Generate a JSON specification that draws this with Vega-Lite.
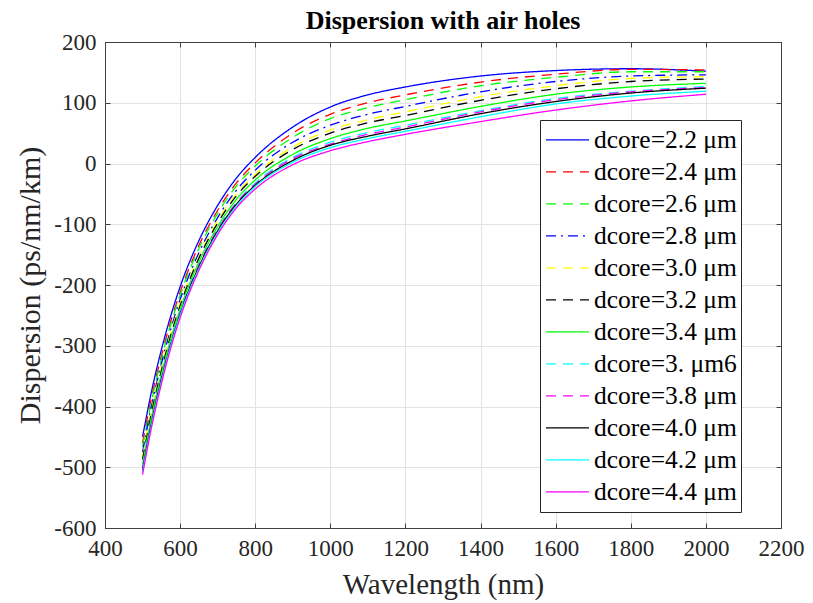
{
  "$schema": "https://vega.github.io/schema/vega-lite/v6.json",
  "width": 676,
  "height": 486,
  "autosize": {"type": "none"},
  "padding": {"left": 105, "top": 42, "right": 32, "bottom": 75},
  "background": "white",
  "title": {"text": "Dispersion with air holes", "font": "Liberation Serif", "fontSize": 26, "fontWeight": "bold", "color": "black", "anchor": "middle", "offset": -3},
  "config": {
    "view": {"stroke": "#404040", "strokeWidth": 1},
    "axis": {"labelFont": "Liberation Serif", "labelFontSize": 23, "labelColor": "#262626", "titleFont": "Liberation Serif", "titleFontSize": 29, "titleFontWeight": "normal", "titleColor": "#262626", "domainColor": "#404040", "tickColor": "#404040", "tickSize": -5, "labelPadding": 14, "gridColor": "#e3e3e3", "gridWidth": 1, "labelFlush": false, "labelOverlap": false, "labelExpr": "'' + datum.value"},
    "legend": {"labelFont": "Liberation Serif", "labelFontSize": 25.5, "labelColor": "black", "symbolType": "stroke", "symbolSize": 1849, "symbolStrokeWidth": 1.3, "padding": 4, "symbolOffset": 1, "clipHeight": 31.75, "strokeColor": "#262626", "fillColor": "white", "rowPadding": 0, "labelOffset": 4, "labelLimit": 400}
  },
  "data": {"values": [
    {"s":"dcore=2.2 μm","w":500,"D":-450},{"s":"dcore=2.2 μm","w":525,"D":-372},{"s":"dcore=2.2 μm","w":550,"D":-307},{"s":"dcore=2.2 μm","w":575,"D":-251},{"s":"dcore=2.2 μm","w":600,"D":-203},{"s":"dcore=2.2 μm","w":650,"D":-127},{"s":"dcore=2.2 μm","w":700,"D":-69},{"s":"dcore=2.2 μm","w":750,"D":-24},{"s":"dcore=2.2 μm","w":800,"D":10},{"s":"dcore=2.2 μm","w":900,"D":60},{"s":"dcore=2.2 μm","w":1000,"D":93},{"s":"dcore=2.2 μm","w":1100,"D":113},{"s":"dcore=2.2 μm","w":1200,"D":126},{"s":"dcore=2.2 μm","w":1400,"D":144},{"s":"dcore=2.2 μm","w":1600,"D":153},{"s":"dcore=2.2 μm","w":1800,"D":156},{"s":"dcore=2.2 μm","w":2000,"D":152},
    {"s":"dcore=2.4 μm","w":500,"D":-460},{"s":"dcore=2.4 μm","w":525,"D":-382},{"s":"dcore=2.4 μm","w":550,"D":-317},{"s":"dcore=2.4 μm","w":575,"D":-260},{"s":"dcore=2.4 μm","w":600,"D":-212},{"s":"dcore=2.4 μm","w":650,"D":-135},{"s":"dcore=2.4 μm","w":700,"D":-77},{"s":"dcore=2.4 μm","w":750,"D":-32},{"s":"dcore=2.4 μm","w":800,"D":1},{"s":"dcore=2.4 μm","w":900,"D":50},{"s":"dcore=2.4 μm","w":1000,"D":81},{"s":"dcore=2.4 μm","w":1100,"D":100},{"s":"dcore=2.4 μm","w":1200,"D":113},{"s":"dcore=2.4 μm","w":1400,"D":134},{"s":"dcore=2.4 μm","w":1600,"D":147},{"s":"dcore=2.4 μm","w":1800,"D":155},{"s":"dcore=2.4 μm","w":2000,"D":154},
    {"s":"dcore=2.6 μm","w":500,"D":-467},{"s":"dcore=2.6 μm","w":525,"D":-388},{"s":"dcore=2.6 μm","w":550,"D":-322},{"s":"dcore=2.6 μm","w":575,"D":-265},{"s":"dcore=2.6 μm","w":600,"D":-217},{"s":"dcore=2.6 μm","w":650,"D":-140},{"s":"dcore=2.6 μm","w":700,"D":-82},{"s":"dcore=2.6 μm","w":750,"D":-37},{"s":"dcore=2.6 μm","w":800,"D":-4},{"s":"dcore=2.6 μm","w":900,"D":43},{"s":"dcore=2.6 μm","w":1000,"D":74},{"s":"dcore=2.6 μm","w":1100,"D":92},{"s":"dcore=2.6 μm","w":1200,"D":105},{"s":"dcore=2.6 μm","w":1400,"D":128},{"s":"dcore=2.6 μm","w":1600,"D":142},{"s":"dcore=2.6 μm","w":1800,"D":151},{"s":"dcore=2.6 μm","w":2000,"D":151},
    {"s":"dcore=2.8 μm","w":500,"D":-475},{"s":"dcore=2.8 μm","w":525,"D":-396},{"s":"dcore=2.8 μm","w":550,"D":-330},{"s":"dcore=2.8 μm","w":575,"D":-273},{"s":"dcore=2.8 μm","w":600,"D":-224},{"s":"dcore=2.8 μm","w":650,"D":-147},{"s":"dcore=2.8 μm","w":700,"D":-89},{"s":"dcore=2.8 μm","w":750,"D":-44},{"s":"dcore=2.8 μm","w":800,"D":-11},{"s":"dcore=2.8 μm","w":900,"D":35},{"s":"dcore=2.8 μm","w":1000,"D":63},{"s":"dcore=2.8 μm","w":1100,"D":81},{"s":"dcore=2.8 μm","w":1200,"D":94},{"s":"dcore=2.8 μm","w":1400,"D":118},{"s":"dcore=2.8 μm","w":1600,"D":135},{"s":"dcore=2.8 μm","w":1800,"D":144},{"s":"dcore=2.8 μm","w":2000,"D":146},
    {"s":"dcore=3.0 μm","w":500,"D":-483},{"s":"dcore=3.0 μm","w":525,"D":-403},{"s":"dcore=3.0 μm","w":550,"D":-337},{"s":"dcore=3.0 μm","w":575,"D":-279},{"s":"dcore=3.0 μm","w":600,"D":-230},{"s":"dcore=3.0 μm","w":650,"D":-153},{"s":"dcore=3.0 μm","w":700,"D":-94},{"s":"dcore=3.0 μm","w":750,"D":-50},{"s":"dcore=3.0 μm","w":800,"D":-18},{"s":"dcore=3.0 μm","w":900,"D":27},{"s":"dcore=3.0 μm","w":1000,"D":55},{"s":"dcore=3.0 μm","w":1100,"D":72},{"s":"dcore=3.0 μm","w":1200,"D":85},{"s":"dcore=3.0 μm","w":1400,"D":110},{"s":"dcore=3.0 μm","w":1600,"D":128},{"s":"dcore=3.0 μm","w":1800,"D":140},{"s":"dcore=3.0 μm","w":2000,"D":143},
    {"s":"dcore=3.2 μm","w":500,"D":-487},{"s":"dcore=3.2 μm","w":525,"D":-407},{"s":"dcore=3.2 μm","w":550,"D":-341},{"s":"dcore=3.2 μm","w":575,"D":-283},{"s":"dcore=3.2 μm","w":600,"D":-234},{"s":"dcore=3.2 μm","w":650,"D":-156},{"s":"dcore=3.2 μm","w":700,"D":-98},{"s":"dcore=3.2 μm","w":750,"D":-53},{"s":"dcore=3.2 μm","w":800,"D":-21},{"s":"dcore=3.2 μm","w":900,"D":23},{"s":"dcore=3.2 μm","w":1000,"D":50},{"s":"dcore=3.2 μm","w":1100,"D":67},{"s":"dcore=3.2 μm","w":1200,"D":79},{"s":"dcore=3.2 μm","w":1400,"D":104},{"s":"dcore=3.2 μm","w":1600,"D":123},{"s":"dcore=3.2 μm","w":1800,"D":135},{"s":"dcore=3.2 μm","w":2000,"D":139},
    {"s":"dcore=3.4 μm","w":500,"D":-495},{"s":"dcore=3.4 μm","w":525,"D":-414},{"s":"dcore=3.4 μm","w":550,"D":-347},{"s":"dcore=3.4 μm","w":575,"D":-289},{"s":"dcore=3.4 μm","w":600,"D":-240},{"s":"dcore=3.4 μm","w":650,"D":-162},{"s":"dcore=3.4 μm","w":700,"D":-104},{"s":"dcore=3.4 μm","w":750,"D":-59},{"s":"dcore=3.4 μm","w":800,"D":-27},{"s":"dcore=3.4 μm","w":900,"D":15},{"s":"dcore=3.4 μm","w":1000,"D":41},{"s":"dcore=3.4 μm","w":1100,"D":58},{"s":"dcore=3.4 μm","w":1200,"D":70},{"s":"dcore=3.4 μm","w":1400,"D":94},{"s":"dcore=3.4 μm","w":1600,"D":114},{"s":"dcore=3.4 μm","w":1800,"D":126},{"s":"dcore=3.4 μm","w":2000,"D":132},
    {"s":"dcore=3. μm6","w":500,"D":-500},{"s":"dcore=3. μm6","w":525,"D":-420},{"s":"dcore=3. μm6","w":550,"D":-352},{"s":"dcore=3. μm6","w":575,"D":-294},{"s":"dcore=3. μm6","w":600,"D":-244},{"s":"dcore=3. μm6","w":650,"D":-167},{"s":"dcore=3. μm6","w":700,"D":-108},{"s":"dcore=3. μm6","w":750,"D":-64},{"s":"dcore=3. μm6","w":800,"D":-32},{"s":"dcore=3. μm6","w":900,"D":10},{"s":"dcore=3. μm6","w":1000,"D":35},{"s":"dcore=3. μm6","w":1100,"D":51},{"s":"dcore=3. μm6","w":1200,"D":63},{"s":"dcore=3. μm6","w":1400,"D":87},{"s":"dcore=3. μm6","w":1600,"D":107},{"s":"dcore=3. μm6","w":1800,"D":119},{"s":"dcore=3. μm6","w":2000,"D":127},
    {"s":"dcore=3.8 μm","w":500,"D":-502},{"s":"dcore=3.8 μm","w":525,"D":-422},{"s":"dcore=3.8 μm","w":550,"D":-354},{"s":"dcore=3.8 μm","w":575,"D":-296},{"s":"dcore=3.8 μm","w":600,"D":-246},{"s":"dcore=3.8 μm","w":650,"D":-168},{"s":"dcore=3.8 μm","w":700,"D":-109},{"s":"dcore=3.8 μm","w":750,"D":-65},{"s":"dcore=3.8 μm","w":800,"D":-34},{"s":"dcore=3.8 μm","w":900,"D":8},{"s":"dcore=3.8 μm","w":1000,"D":32},{"s":"dcore=3.8 μm","w":1100,"D":48},{"s":"dcore=3.8 μm","w":1200,"D":60},{"s":"dcore=3.8 μm","w":1400,"D":85},{"s":"dcore=3.8 μm","w":1600,"D":105},{"s":"dcore=3.8 μm","w":1800,"D":118},{"s":"dcore=3.8 μm","w":2000,"D":125},
    {"s":"dcore=4.0 μm","w":500,"D":-505},{"s":"dcore=4.0 μm","w":525,"D":-424},{"s":"dcore=4.0 μm","w":550,"D":-356},{"s":"dcore=4.0 μm","w":575,"D":-298},{"s":"dcore=4.0 μm","w":600,"D":-248},{"s":"dcore=4.0 μm","w":650,"D":-170},{"s":"dcore=4.0 μm","w":700,"D":-111},{"s":"dcore=4.0 μm","w":750,"D":-67},{"s":"dcore=4.0 μm","w":800,"D":-36},{"s":"dcore=4.0 μm","w":900,"D":5},{"s":"dcore=4.0 μm","w":1000,"D":30},{"s":"dcore=4.0 μm","w":1100,"D":45},{"s":"dcore=4.0 μm","w":1200,"D":57},{"s":"dcore=4.0 μm","w":1400,"D":82},{"s":"dcore=4.0 μm","w":1600,"D":102},{"s":"dcore=4.0 μm","w":1800,"D":116},{"s":"dcore=4.0 μm","w":2000,"D":124},
    {"s":"dcore=4.2 μm","w":500,"D":-508},{"s":"dcore=4.2 μm","w":525,"D":-427},{"s":"dcore=4.2 μm","w":550,"D":-359},{"s":"dcore=4.2 μm","w":575,"D":-300},{"s":"dcore=4.2 μm","w":600,"D":-250},{"s":"dcore=4.2 μm","w":650,"D":-173},{"s":"dcore=4.2 μm","w":700,"D":-114},{"s":"dcore=4.2 μm","w":750,"D":-70},{"s":"dcore=4.2 μm","w":800,"D":-38},{"s":"dcore=4.2 μm","w":900,"D":2},{"s":"dcore=4.2 μm","w":1000,"D":26},{"s":"dcore=4.2 μm","w":1100,"D":41},{"s":"dcore=4.2 μm","w":1200,"D":53},{"s":"dcore=4.2 μm","w":1400,"D":77},{"s":"dcore=4.2 μm","w":1600,"D":98},{"s":"dcore=4.2 μm","w":1800,"D":111},{"s":"dcore=4.2 μm","w":2000,"D":119},
    {"s":"dcore=4.4 μm","w":500,"D":-512},{"s":"dcore=4.4 μm","w":525,"D":-431},{"s":"dcore=4.4 μm","w":550,"D":-363},{"s":"dcore=4.4 μm","w":575,"D":-304},{"s":"dcore=4.4 μm","w":600,"D":-254},{"s":"dcore=4.4 μm","w":650,"D":-176},{"s":"dcore=4.4 μm","w":700,"D":-117},{"s":"dcore=4.4 μm","w":750,"D":-73},{"s":"dcore=4.4 μm","w":800,"D":-42},{"s":"dcore=4.4 μm","w":900,"D":-2},{"s":"dcore=4.4 μm","w":1000,"D":21},{"s":"dcore=4.4 μm","w":1100,"D":36},{"s":"dcore=4.4 μm","w":1200,"D":48},{"s":"dcore=4.4 μm","w":1400,"D":69},{"s":"dcore=4.4 μm","w":1600,"D":88},{"s":"dcore=4.4 μm","w":1800,"D":103},{"s":"dcore=4.4 μm","w":2000,"D":114}
  ]},
  "layer": [
    {
      "mark": {"type": "line", "strokeWidth": 1.3, "interpolate": "monotone"},
      "encoding": {
        "x": {"field": "w", "type": "quantitative", "scale": {"domain": [400, 2200], "nice": false}, "axis": {"values": [400,600,800,1000,1200,1400,1600,1800,2000,2200], "title": "Wavelength (nm)", "titlePadding": 10}},
        "y": {"field": "D", "type": "quantitative", "scale": {"domain": [-600, 200], "nice": false}, "axis": {"values": [-600,-500,-400,-300,-200,-100,0,100,200], "title": "Dispersion (ps/nm/km)", "titlePadding": 8, "titleFontSize": 30}},
        "color": {"field": "s", "type": "nominal", "scale": {"domain": ["dcore=2.2 μm","dcore=2.4 μm","dcore=2.6 μm","dcore=2.8 μm","dcore=3.0 μm","dcore=3.2 μm","dcore=3.4 μm","dcore=3. μm6","dcore=3.8 μm","dcore=4.0 μm","dcore=4.2 μm","dcore=4.4 μm"], "range": ["#0000ff","#ff0000","#00ff00","#0000ff","#ffff00","#000000","#00ff00","#00ffff","#ff00ff","#000000","#00ffff","#ff00ff"]}, "legend": {"title": null, "orient": "none", "legendX": 435, "legendY": 78}},
        "strokeDash": {"field": "s", "type": "nominal", "scale": {"domain": ["dcore=2.2 μm","dcore=2.4 μm","dcore=2.6 μm","dcore=2.8 μm","dcore=3.0 μm","dcore=3.2 μm","dcore=3.4 μm","dcore=3. μm6","dcore=3.8 μm","dcore=4.0 μm","dcore=4.2 μm","dcore=4.4 μm"], "range": [[1,0],[10,7],[10,7],[10,5,2,5],[10,7],[10,7],[1,0],[10,7],[10,7],[1,0],[1,0],[1,0]]}, "legend": {"title": null, "orient": "none", "legendX": 435, "legendY": 78}}
      }
    },
    {
      "mark": {"type": "point", "opacity": 0},
      "encoding": {
        "x": {"field": "w", "type": "quantitative", "scale": {"domain": [400, 2200], "nice": false}, "axis": {"orient": "top", "values": [400,600,800,1000,1200,1400,1600,1800,2000,2200], "labels": false, "title": null, "grid": false}},
        "y": {"field": "D", "type": "quantitative", "scale": {"domain": [-600, 200], "nice": false}, "axis": {"orient": "right", "values": [-600,-500,-400,-300,-200,-100,0,100,200], "labels": false, "title": null, "grid": false}}
      }
    }
  ],
  "resolve": {"axis": {"x": "independent", "y": "independent"}}
}
